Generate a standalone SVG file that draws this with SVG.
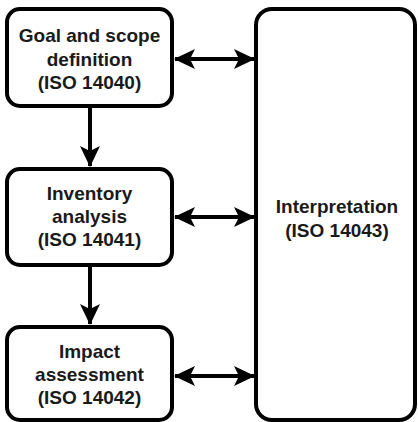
<svg xmlns="http://www.w3.org/2000/svg" width="418" height="422" viewBox="0 0 418 422">
<defs>
<style>
.box{fill:#fff;stroke:#000;stroke-width:4}
.t{font-family:"Liberation Sans",Arial,sans-serif;font-weight:bold;font-size:19px;fill:#1a1a1a;text-anchor:middle}
.c{stroke:#000;stroke-width:4;fill:none}
</style>
<marker id="ah" markerUnits="userSpaceOnUse" markerWidth="22" markerHeight="22" viewBox="0 0 22 22" refX="20" refY="11" orient="auto-start-reverse">
<path d="M0,1 L21,11 L0,21 L5,11 Z" fill="#000"/>
</marker>
</defs>
<rect width="418" height="422" fill="#fff"/>
<g id="connectors">
<line class="c" x1="90" y1="108" x2="90" y2="166" marker-end="url(#ah)"/>
<line class="c" x1="90" y1="267" x2="90" y2="324" marker-end="url(#ah)"/>
<line class="c" x1="175" y1="59" x2="254" y2="59" marker-start="url(#ah)" marker-end="url(#ah)"/>
<line class="c" x1="175" y1="217" x2="254" y2="217" marker-start="url(#ah)" marker-end="url(#ah)"/>
<line class="c" x1="175" y1="376" x2="254" y2="376" marker-start="url(#ah)" marker-end="url(#ah)"/>
</g>
<g id="goal">
<rect class="box" x="7" y="9" width="165" height="97" rx="13"/>
<text class="t" x="89.5" y="42">Goal and scope</text>
<text class="t" x="89.5" y="65.5">definition</text>
<text class="t" x="89.5" y="89">(ISO 14040)</text>
</g>
<g id="inventory">
<rect class="box" x="7" y="169" width="165" height="96" rx="13"/>
<text class="t" x="89.5" y="200">Inventory</text>
<text class="t" x="89.5" y="223">analysis</text>
<text class="t" x="89.5" y="246">(ISO 14041)</text>
</g>
<g id="impact">
<rect class="box" x="7" y="327" width="165" height="93" rx="13"/>
<text class="t" x="89.5" y="358">Impact</text>
<text class="t" x="89.5" y="381">assessment</text>
<text class="t" x="89.5" y="404">(ISO 14042)</text>
</g>
<g id="interpretation">
<rect class="box" x="256" y="9" width="159" height="411" rx="16"/>
<text class="t" x="337" y="213">Interpretation</text>
<text class="t" x="337" y="237">(ISO 14043)</text>
</g>
</svg>
